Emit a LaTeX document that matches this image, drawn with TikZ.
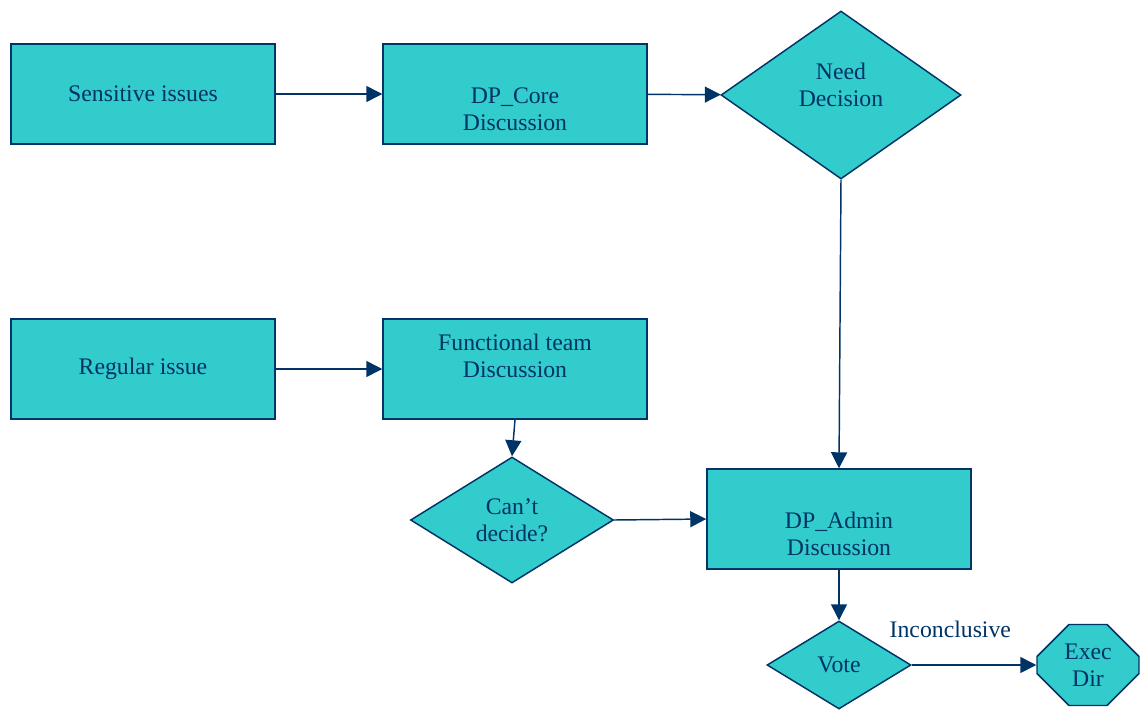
\documentclass[tikz,border=0pt]{standalone}
\usepackage{fontspec}
\setmainfont{Liberation Serif}
\usetikzlibrary{shapes.geometric,shapes.misc,arrows.meta}

\definecolor{flowfill}{RGB}{51,204,204}
\definecolor{flowline}{RGB}{0,51,102}

\tikzset{
  flowshape/.style={draw=flowline, line width=1.1pt, fill=flowfill, text=flowline,
    align=center, inner sep=0pt, font=\fontsize{17.8}{20.3}\selectfont},
  procbox/.style={flowshape, rectangle, minimum width=198pt, minimum height=75pt},
  decision/.style={flowshape, diamond},
  stopbox/.style={flowshape, chamfered rectangle, chamfered rectangle xsep=12pt,
    chamfered rectangle ysep=12pt, minimum width=76.5pt, minimum height=60.75pt},
  flowarrow/.style={draw=flowline, line width=1.1pt, -{Triangle[length=12pt,width=12pt]}},
}

\begin{document}
\begin{tikzpicture}[x=0.75pt,y=0.75pt,yscale=-1,xscale=1]
\useasboundingbox (0,0) rectangle (1140,715);

%Shape: Rectangle [id:sens]
\node[procbox] (sens) at (143,94) {Sensitive issues};
%Shape: Rectangle [id:core]
\node[procbox] (core) at (515,94) {\strut\\DP\_Core\\Discussion};
%Shape: Diamond [id:need]
\node[decision, minimum width=180pt, minimum height=126pt] (need) at (841,95) {Need\\Decision\\[-5pt]~};

%Shape: Rectangle [id:reg]
\node[procbox] (reg) at (143,369) {Regular issue};
%Shape: Rectangle [id:func]
\node[procbox] (func) at (515,369) {Functional team\\Discussion\\~};
%Shape: Diamond [id:cant]
\node[decision, minimum width=152.25pt, minimum height=94.5pt] (cant) at (512,520) {Can’t\\decide?};
%Shape: Rectangle [id:admin]
\node[procbox] (admin) at (839,519) {\strut\\DP\_Admin\\Discussion};
%Shape: Diamond [id:vote]
\node[decision, minimum width=108pt, minimum height=66pt] (vote) at (839,665) {Vote};
%Shape: Octagon [id:exec]
\node[stopbox] (exec) at (1088,665) {Exec\\Dir};

%Straight Lines with arrows
\draw[flowarrow] (sens) -- (core);
\draw[flowarrow] (core) -- (need);
\draw[flowarrow] (need.south) -- (admin.north);
\draw[flowarrow] (reg) -- (func);
\draw[flowarrow] (func.south) -- (cant.north);
\draw[flowarrow] (cant.east) -- (admin.west);
\draw[flowarrow] (admin.south) -- (vote.north);
\draw[flowarrow] (vote.east) -- (exec.west)
  node[pos=0.31, above=20pt, inner sep=0pt, text=flowline, font=\fontsize{17.8}{20.3}\selectfont] (incl) {Inconclusive};

\end{tikzpicture}
\end{document}
